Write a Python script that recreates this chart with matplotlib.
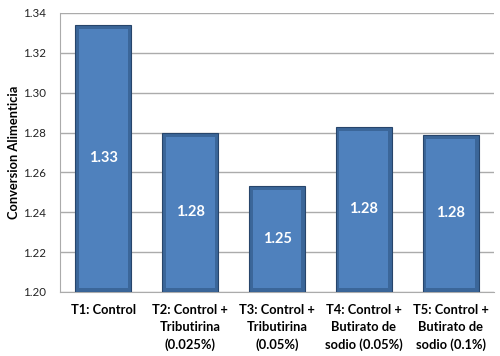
import matplotlib.pyplot as plt
import numpy as np

plt.rcParams['font.family'] = ['Lato', 'DejaVu Sans']

categories = ['T1: Control', 'T2: Control +\nTributirina\n(0.025%)', 'T3: Control +\nTributirina\n(0.05%)',
              'T4: Control +\nButirato de\nsodio (0.05%)', 'T5: Control +\nButirato de\nsodio (0.1%)']
values = [1.334, 1.280, 1.253, 1.283, 1.279]
labels = ['1.33', '1.28', '1.25', '1.28', '1.28']

fig = plt.figure(figsize=(5, 3.56), dpi=100)
ax = fig.add_axes([0.12, 0.18, 0.868, 0.7835])

x = np.arange(len(categories))
base = 1.20
heights = [v - base for v in values]

# outer (dark edge) and inner (lighter face) to fake the bevel
ax.bar(x, heights, bottom=base, width=0.645, color='#3b6699', edgecolor='#27456b', linewidth=0.8, zorder=3)
ax.bar(x, [h - 0.004 for h in heights], bottom=base + 0.002, width=0.56, color='#4f81bd', linewidth=0, zorder=4)

for xi, v, h, lab in zip(x, values, heights, labels):
    ax.text(xi, base + h / 2, lab, ha='center', va='center', color='white',
            fontsize=10.5, fontweight='bold', zorder=5)

ax.set_ylim(1.20, 1.34)
ax.set_xlim(-0.5, len(categories) - 0.5)
ax.set_yticks(np.arange(1.20, 1.341, 0.02))
ax.set_yticklabels(['%.2f' % t for t in np.arange(1.20, 1.341, 0.02)])
ax.yaxis.grid(True, color='#ababab', linewidth=1, zorder=0)
ax.set_axisbelow(True)
ax.set_xticks(x)
ax.set_xticklabels(categories, fontsize=9.3, fontweight='bold', linespacing=1.5)
ax.tick_params(axis='y', labelsize=8.3, length=0, pad=10, labelcolor='#222222')
ax.tick_params(axis='x', length=0, pad=9)
ax.set_ylabel('Conversion Alimenticia', fontsize=9.3, fontweight='bold', labelpad=2)

for s in ['top', 'right']:
    ax.spines[s].set_visible(False)
for s in ['left', 'bottom']:
    ax.spines[s].set_color('#ababab')

fig.savefig('out.png', dpi=100)
